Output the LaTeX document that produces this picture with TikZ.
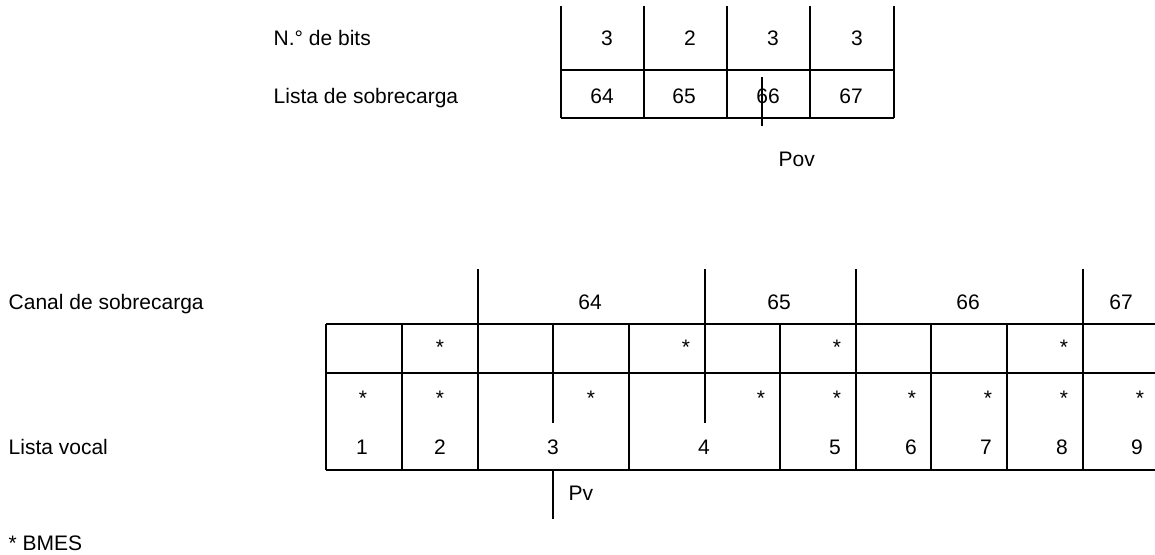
\documentclass[tikz,border=0pt]{standalone}
\usepackage{fontspec}
\setmainfont{Liberation Sans}
\begin{document}
\begin{tikzpicture}[x=0.5pt,y=-0.5pt,line width=0.7pt,
  txt/.style={font=\fontsize{10.5}{12}\selectfont,inner sep=0pt,anchor=base},
  lbl/.style={txt,anchor=base west},
  rule/.style={draw=black,line width=0.7pt}]
\useasboundingbox (0,0) rectangle (1155,555);
% ---------- top table ----------
\foreach \x in {561,644,727,810,894} \draw[rule] (\x,6) -- (\x,118);
\draw[rule] (561,70) -- (894,70);
\draw[rule] (561,118) -- (894,118);
\coordinate (povtop) at (762,77);
\coordinate (povbot) at (762,126);
\draw[rule] (povtop) -- (povbot);
\node[lbl] (nbits) at (273,46) {N.° de bits};
\node[lbl] (lsob) at (273,104) {Lista de sobrecarga};
\node[txt] (b1) at (607,46) {3};
\node[txt] (b2) at (690,46) {2};
\node[txt] (b3) at (773,46) {3};
\node[txt] (b4) at (857,46) {3};
\node[txt] (s64) at (602,104) {64};
\node[txt] (s65) at (684,104) {65};
\node[txt] (s66) at (768,104) {66};
\node[txt] (s67) at (851,104) {67};
\node[lbl] (pov) at (778,167) {Pov};
% ---------- bottom table ----------
\foreach \y in {324,373,470} \draw[rule] (326,\y) -- (1155,\y);
\foreach \x in {326,402,629,780,931,1007} \draw[rule] (\x,324) -- (\x,470);
\foreach \x in {478,856,1083} \draw[rule] (\x,269) -- (\x,470);
\draw[rule] (705,269) -- (705,423);
\draw[rule] (553,324) -- (553,423);
\coordinate (pvtop) at (553,470);
\coordinate (pvbot) at (553,519);
\draw[rule] (pvtop) -- (pvbot);
\node[lbl] (canal) at (8,310) {Canal de sobrecarga};
\node[lbl] (lvoc) at (8,454.5) {Lista vocal};
\node[lbl] (bmes) at (8,550) {* BMES};
\node[txt] (c64) at (590,310) {64};
\node[txt] (c65) at (779,310) {65};
\node[txt] (c66) at (968,310) {66};
\node[txt] (c67) at (1121,310) {67};
\foreach \x [count=\i] in {440,686,837,1064}
  \node[txt] (ra\i) at (\x,355) {*};
\foreach \x [count=\i] in {363,440,591,761,837,912,988,1064,1140}
  \node[txt] (rb\i) at (\x,405) {*};
\foreach \x/\n in {362/1,440/2,553/3,704/4,835/5,911/6,986/7,1062/8,1137/9}
  \node[txt] (v\n) at (\x,454.5) {\n};
\node[lbl] (pv) at (568,500.5) {Pv};
\end{tikzpicture}
\end{document}
